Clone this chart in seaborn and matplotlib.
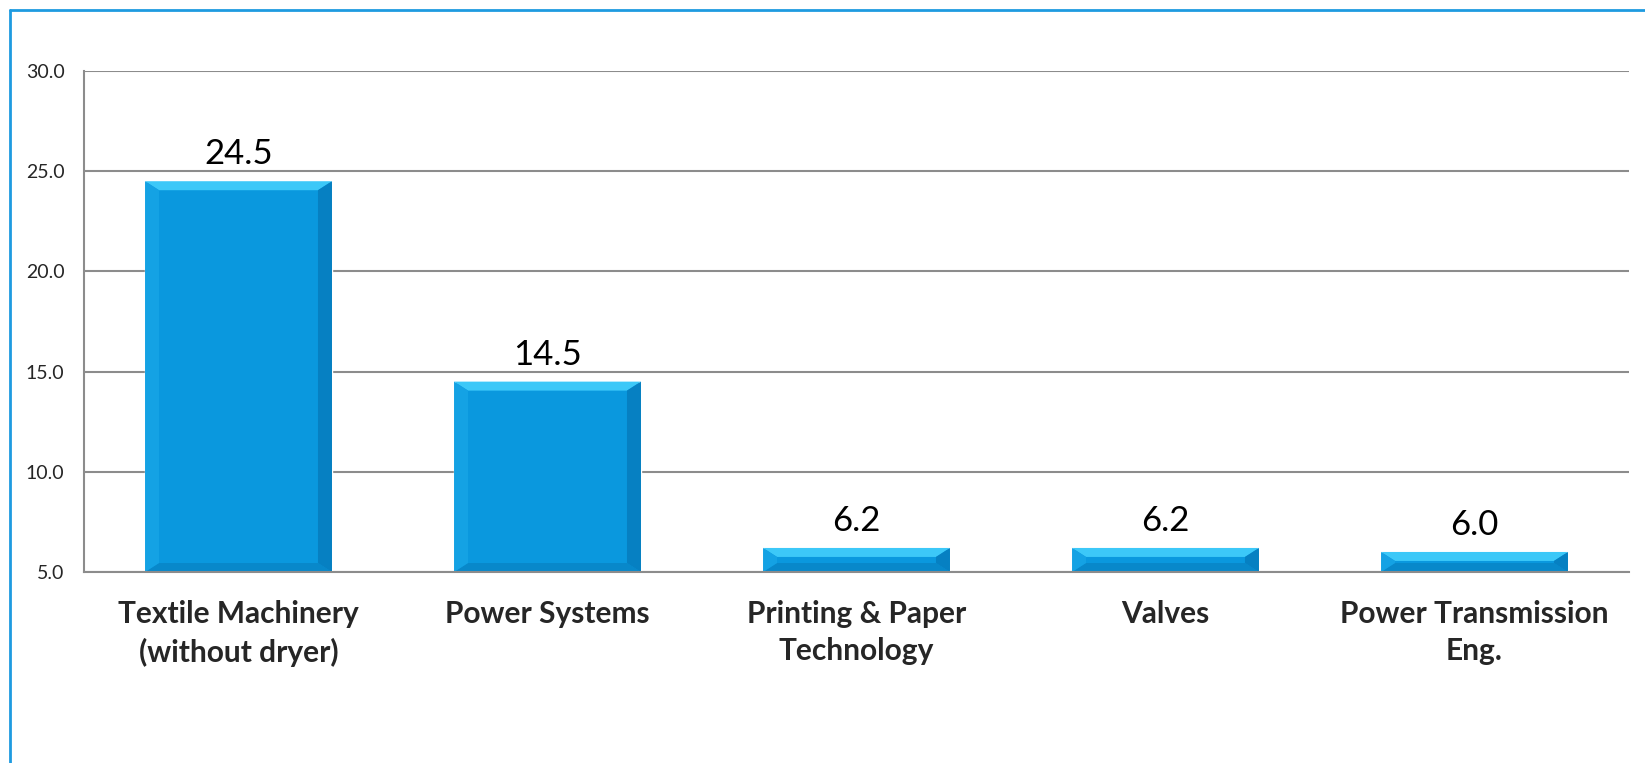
import pandas as pd
import seaborn as sns
import matplotlib.pyplot as plt
from matplotlib.patches import Polygon
from matplotlib.lines import Line2D

# Chart data
categories = ["Textile Machinery\n(without dryer)", "Power Systems",
              "Printing & Paper\nTechnology", "Valves", "Power Transmission\nEng."]
values = [24.5, 14.5, 6.2, 6.2, 6.0]
y_ticks = [5.0, 10.0, 15.0, 20.0, 25.0, 30.0]

FACE = "#0a98de"
TOP = "#3cc8f8"
LEFT = "#14a2e4"
RIGHT = "#0680c2"
BOTTOM = "#0888ca"
GRID = "#8c8c8c"
BORDER = "#1e9be0"

sns.set_style("white")
plt.rcParams['font.family'] = ['Lato', 'DejaVu Sans']

df = pd.DataFrame({"category": categories, "value": values})

fig = plt.figure(figsize=(16.45, 7.63), dpi=100)
ax = fig.add_axes([84 / 1645, 1 - 572 / 763, 1545 / 1645, 501 / 763])

sns.barplot(data=df, x="category", y="value", color=FACE, width=0.605,
            saturation=1, ax=ax, zorder=3)

ax.set_xlim(-0.5, len(categories) - 0.5)
ax.set_ylim(y_ticks[0], y_ticks[-1])
ax.set_yticks(y_ticks)
ax.set_yticklabels([f"{t:.1f}" for t in y_ticks], fontsize=14)
ax.set_xlabel("")
ax.set_ylabel("")
ax.tick_params(axis="y", length=0, pad=14)
ax.tick_params(axis="x", length=0, pad=20)
for lbl in ax.get_xticklabels():
    lbl.set_fontsize(21.5)
    lbl.set_fontweight("bold")
    lbl.set_linespacing(1.4)

ax.yaxis.grid(True, color=GRID, linewidth=1.5)
ax.set_axisbelow(True)
for side in ["top", "right"]:
    ax.spines[side].set_visible(False)
for side in ["left", "bottom"]:
    ax.spines[side].set_color(GRID)
    ax.spines[side].set_linewidth(1.5)
    ax.spines[side].set_zorder(4)

# bevel shading on each bar, sizes in pixels converted to data units
x_px = ax.transData.transform((1, 0))[0] - ax.transData.transform((0, 0))[0]
y_px = ax.transData.transform((0, 1))[1] - ax.transData.transform((0, 0))[1]
bx = 14 / x_px
by = 9 / y_px
ylo = ax.get_ylim()[0]
for bar, v in zip(ax.patches, values):
    x0 = bar.get_x()
    x1 = x0 + bar.get_width()
    y0 = max(bar.get_y(), ylo)
    y1 = bar.get_y() + bar.get_height()
    pieces = [
        ([(x0, y1), (x1, y1), (x1 - bx, y1 - by), (x0 + bx, y1 - by)], TOP),
        ([(x0, y0), (x1, y0), (x1 - bx, y0 + by), (x0 + bx, y0 + by)], BOTTOM),
        ([(x0, y0), (x0, y1), (x0 + bx, y1 - by), (x0 + bx, y0 + by)], LEFT),
        ([(x1, y0), (x1, y1), (x1 - bx, y1 - by), (x1 - bx, y0 + by)], RIGHT),
    ]
    for pts, col in pieces:
        ax.add_patch(Polygon(pts, closed=True, facecolor=col, edgecolor="none",
                             zorder=3.5))
    ax.annotate(f"{v:.1f}", (bar.get_x() + bar.get_width() / 2, y1),
                xytext=(0, 8), textcoords="offset points",
                ha="center", va="bottom", fontsize=25, color="black")

# chart frame (left and top edges visible)
fig.add_artist(Line2D([10 / 1645, 10 / 1645], [0, 1 - 10 / 763],
                      transform=fig.transFigure, color=BORDER, linewidth=2))
fig.add_artist(Line2D([10 / 1645, 1], [1 - 10 / 763, 1 - 10 / 763],
                      transform=fig.transFigure, color=BORDER, linewidth=2))

fig.savefig("out.png", dpi=100)
